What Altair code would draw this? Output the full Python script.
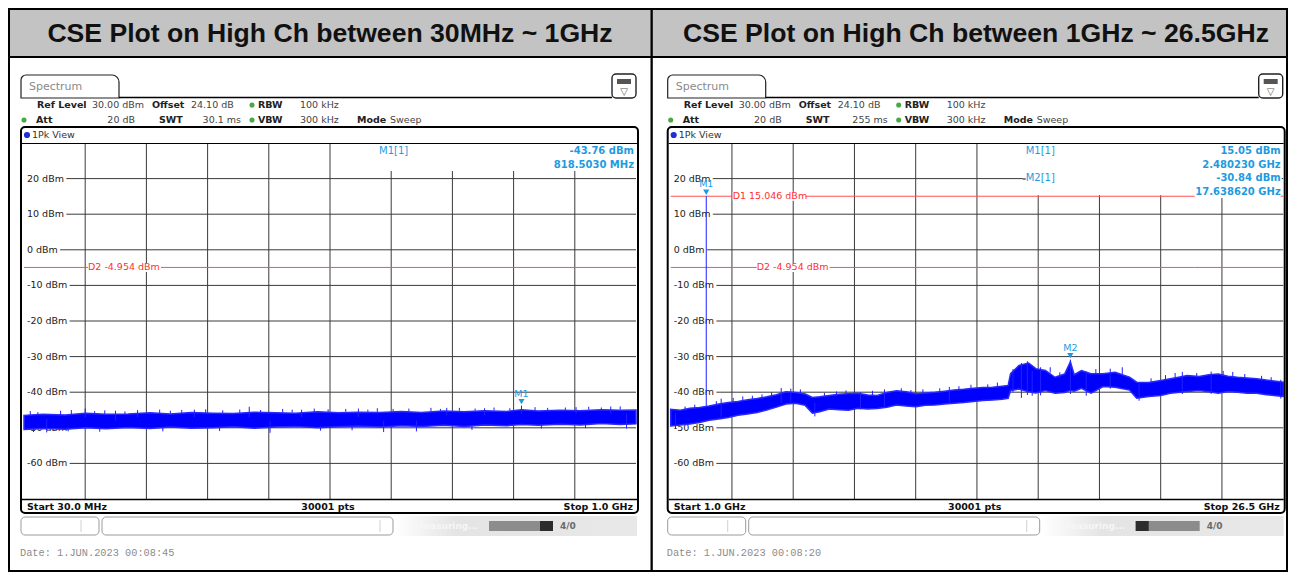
import altair as alt
import pandas as pd

# ------------------------------------------------------------------ data
TITLES = ["CSE Plot on High Ch between 30MHz ~ 1GHz",
          "CSE Plot on High Ch between 1GHz ~ 26.5GHz"]
DBM_TICKS = [20, 10, 0, -10, -20, -30, -40, -50, -60]
DBM_LABELS = ["20 dBm", "10 dBm", "0 dBm", "-10 dBm", "-20 dBm", "-30 dBm",
              "-40 dBm", "-50 dBm", "-60 dBm"]

# left sweep: 30 MHz .. 1 GHz (MHz)
L_START, L_STOP = 30.0, 1000.0
L_GRID = [127, 224, 321, 418, 515, 612, 709, 806, 903]
L_FREQ = [30, 60, 95, 128, 160, 195, 230, 262, 295, 330, 362, 395, 428, 460, 495,
          528, 560, 595, 628, 660, 695, 728, 760, 795, 818.5, 845, 880, 912, 945,
          975, 1000]
L_LO = [-50.5, -50.2, -50.4, -50.0, -50.3, -49.9, -50.2, -49.8, -50.1, -50.0, -49.7,
        -50.1, -49.8, -49.6, -50.0, -49.7, -49.5, -49.8, -49.4, -49.6, -49.3, -49.6,
        -49.2, -49.4, -49.1, -49.3, -49.0, -49.2, -48.8, -49.1, -48.9]
L_HI = [-46.5, -46.2, -46.4, -45.9, -46.2, -46.1, -45.8, -46.1, -45.7, -45.9, -46.0,
        -45.6, -45.8, -45.9, -45.5, -45.8, -45.6, -45.7, -45.4, -45.7, -45.3, -45.5,
        -45.2, -45.4, -44.9, -45.3, -45.1, -45.2, -44.9, -45.1, -45.0]
L_SPK_FREQ = [40, 45, 52, 66, 88, 100, 105, 127, 142, 150, 158, 175, 190, 210, 245, 250,
              262, 280, 300, 318, 340, 345, 372, 387, 405, 420, 440, 455, 470, 490, 500,
              512, 540, 550, 560, 575, 590, 600, 615, 640, 652, 675, 690, 700, 720, 740,
              745, 760, 775, 800, 818.5, 840, 850, 860, 888, 905, 920, 925, 945, 960,
              975, 985]
L_SPK_LO = [-46.5, -51.2, -46.5, -51.3, -46.5, -51.0, -46.4, -47.0, -46.3, -51.1, -46.3,
            -48.0, -46.2, -47.0, -46.0, -51.0, -46.0, -46.0, -47.0, -45.9, -50.9, -45.9,
            -45.8, -47.0, -45.8, -51.4, -45.7, -45.7, -47.0, -45.6, -50.8, -45.6, -45.5,
            -50.7, -47.0, -45.5, -45.5, -51.2, -45.4, -45.4, -51.0, -45.3, -45.3, -46.5,
            -45.2, -50.6, -45.2, -46.5, -45.1, -45.1, -46.0, -45.0, -50.2, -45.0, -45.0,
            -46.0, -50.1, -44.9, -44.9, -46.0, -44.9, -50.2]
L_SPK_HI = [-45.3, -50.0, -45.6, -47.5, -45.2, -49.8, -45.0, -44.6, -45.3, -49.9, -45.1,
            -45.2, -45.4, -45.0, -44.9, -49.8, -45.2, -45.0, -44.9, -44.8, -49.6, -45.1,
            -44.9, -44.1, -45.0, -48.0, -44.7, -44.9, -44.9, -44.6, -49.5, -44.8, -44.7,
            -49.5, -44.6, -44.9, -44.5, -48.0, -44.7, -44.6, -48.0, -44.4, -44.7, -44.4,
            -44.4, -49.3, -44.6, -44.5, -44.3, -44.5, -43.76, -44.2, -49.0, -44.4, -44.3,
            -44.2, -48.9, -44.1, -44.3, -44.0, -44.0, -46.0]
L_MK_NAME = ["M1"]
L_MK_FREQ = [818.5030]
L_MK_LVL = [-43.76]
L_D_NAME = ["D2"]
L_D_LVL = [-4.954]

# right sweep: 1 GHz .. 26.5 GHz (GHz)
R_START, R_STOP = 1.0, 26.5
R_GRID = [3.55, 6.10, 8.65, 11.20, 13.75, 16.30, 18.85, 21.40, 23.95]
R_FREQ = [1.0, 1.4, 1.8, 2.2, 2.6, 3.0, 3.4, 3.8, 4.2, 4.6, 5.0, 5.4, 5.8, 6.2, 6.6,
          6.9, 7.2, 7.6, 8.0, 8.4, 8.8, 9.2, 9.6, 10.0, 10.4, 10.8, 11.2, 11.6, 12.0,
          12.4, 12.8, 13.2, 13.6, 14.0, 14.4, 14.8, 15.05, 15.15, 15.5, 15.9, 16.2,
          16.6, 17.0, 17.4, 17.64, 17.8, 18.1, 18.5, 19.0, 19.5, 20.1, 20.4, 20.9,
          21.4, 21.8, 22.2, 22.5, 23.0, 23.4, 23.8, 24.2, 24.6, 25.0, 25.4, 25.8,
          26.2, 26.5]
R_LO = [-49.5, -49.2, -48.9, -48.5, -47.9, -47.5, -47.1, -46.5, -46.1, -45.7, -45.0,
        -44.2, -43.3, -43.1, -43.7, -45.9, -45.5, -44.7, -44.9, -45.1, -44.5, -44.7,
        -44.6, -44.2, -43.6, -43.9, -44.1, -43.7, -43.6, -43.3, -43.1, -42.9, -42.6,
        -42.3, -42.2, -42.0, -41.7, -39.5, -39.1, -39.9, -40.2, -39.5, -40.3, -40.1,
        -39.5, -39.7, -38.9, -40.3, -38.4, -38.6, -39.4, -41.7, -41.2, -40.9, -40.3,
        -40.0, -39.8, -39.5, -39.9, -40.3, -39.8, -40.0, -40.3, -40.3, -40.7, -41.0,
        -41.2]
R_HI = [-44.8, -45.1, -44.5, -44.3, -43.9, -43.3, -42.9, -42.6, -42.1, -41.8, -41.3,
        -40.7, -39.9, -40.1, -40.5, -41.5, -41.3, -40.9, -40.6, -40.4, -40.3, -40.8,
        -40.9, -40.1, -39.6, -39.9, -40.4, -40.2, -40.0, -39.7, -39.4, -39.2, -38.9,
        -38.7, -38.6, -38.3, -38.1, -34.8, -32.5, -31.8, -33.4, -33.9, -35.8, -34.9,
        -31.5, -35.1, -33.9, -34.8, -34.8, -34.4, -35.8, -37.2, -37.3, -36.7, -36.2,
        -35.7, -35.3, -35.6, -35.1, -34.9, -35.5, -35.8, -36.0, -36.2, -36.6, -36.9,
        -37.2]
R_SPK_FREQ = [1.2, 1.6, 2.0, 2.48023, 2.9, 3.1, 3.6, 4.0, 4.4, 4.8, 5.2, 5.6, 6.0, 6.4,
              7.0, 7.4, 7.9, 8.3, 8.9, 9.4, 9.9, 10.6, 11.0, 11.5, 12.2, 12.6, 13.0,
              13.5, 14.2, 14.6, 15.25, 15.6, 15.85, 16.05, 16.4, 16.8, 17.2, 17.64, 18.3,
              18.7, 19.3, 19.8, 20.5, 21.0, 21.6, 22.0, 22.3, 22.9, 23.5, 24.0, 24.4,
              24.9, 25.6, 26.0, 26.4]
R_SPK_LO = [-50.3, -45.2, -44.8, -44.0, -44.0, -47.0, -43.0, -42.5, -42.2, -42.0, -41.5,
            -43.0, -43.0, -40.4, -46.8, -41.5, -41.0, -40.8, -44.8, -41.0, -44.0, -40.2,
            -40.6, -40.6, -40.2, -43.0, -39.6, -39.1, -39.0, -38.8, -40.0, -41.6, -40.8,
            -41.0, -40.9, -34.5, -36.0, -40.5, -41.0, -34.8, -39.0, -35.0, -42.4, -37.5,
            -36.5, -36.0, -40.5, -36.0, -40.5, -35.5, -36.0, -36.2, -36.8, -37.0, -41.8]
R_SPK_HI = [-46.0, -44.0, -43.5, 15.05, -42.5, -41.8, -41.6, -41.2, -41.0, -40.6, -40.0,
            -38.8, -39.0, -39.2, -43.0, -40.2, -39.8, -39.5, -40.0, -39.6, -39.2, -38.9,
            -39.4, -39.2, -38.9, -38.5, -38.3, -37.9, -37.8, -37.3, -33.5, -31.8, -31.3,
            -34.0, -33.0, -33.0, -34.4, -30.84, -34.2, -33.5, -33.4, -33.0, -37.5, -36.1,
            -35.2, -34.6, -34.3, -34.6, -34.2, -34.0, -34.3, -34.9, -35.4, -35.8, -36.5]
R_MK_NAME = ["M1", "M2"]
R_MK_FREQ = [2.480230, 17.638620]
R_MK_LVL = [15.05, -30.84]
R_D_NAME = ["D1", "D2"]
R_D_LVL = [15.046, -4.954]

SWEEPS = [
    dict(title=TITLES[0], start=L_START, stop=L_STOP, grid=L_GRID, freq=L_FREQ, lo=L_LO,
         hi=L_HI, sf=L_SPK_FREQ, slo=L_SPK_LO, shi=L_SPK_HI, mk=L_MK_NAME, mf=L_MK_FREQ,
         ml=L_MK_LVL, dn=L_D_NAME, dl=L_D_LVL, swt="30.1 ms", startlab="Start 30.0 MHz",
         stoplab="Stop 1.0 GHz", date="Date: 1.JUN.2023  00:08:45", unit="MHz", fdig=4),
    dict(title=TITLES[1], start=R_START, stop=R_STOP, grid=R_GRID, freq=R_FREQ, lo=R_LO,
         hi=R_HI, sf=R_SPK_FREQ, slo=R_SPK_LO, shi=R_SPK_HI, mk=R_MK_NAME, mf=R_MK_FREQ,
         ml=R_MK_LVL, dn=R_D_NAME, dl=R_D_LVL, swt="255 ms", startlab="Start 1.0 GHz",
         stoplab="Stop 26.5 GHz", date="Date: 1.JUN.2023  00:08:20", unit="GHz", fdig=6),
]

# ------------------------------------------------------------------ layout / style
H = 564
SANS = "DejaVu Sans"
MONO = "Liberation Mono"
BLUE = "#0000ff"
MKC = "#1e9be0"
DRED = "#ff5050"
GRID = "#3a3a3a"
ONE = pd.DataFrame({"k": [0]})
LAYOUT = [dict(W=644, dx=-8, xr=[16, 628], dlab=[88], tdx=0),
          dict(W=636, dx=-5.3, xr=[18.7, 631.2], dlab=[86, 110], tdx=6)]


def panel(S, L):
    W, dx = L["W"], L["dx"]
    PL, PR = L["xr"]
    XS = alt.Scale(domain=[S["start"], S["stop"]], range=L["xr"])
    YS = alt.Scale(domain=[-70, 30], range=[491, 135])
    lay = []

    def X(v):
        return alt.value(v + dx)

    def Y(v):
        return alt.value(v - 8)

    def txt(x, y, s, size=9.5, weight="normal", color="#222", align="left",
            font=SANS, baseline="middle", raw=False):
        return alt.Chart(ONE).mark_text(
            text=s, align=align, baseline=baseline, font=font, fontSize=size,
            fontWeight=weight, color=color).encode(
            x=alt.value(x) if raw else X(x), y=alt.value(y) if raw else Y(y))

    def box(x1, x2, y1, y2, fill="white", stroke=None, sw=1.0, r=0, raw=False, **kw):
        m = dict(fill=fill, cornerRadius=r, **kw)
        if stroke:
            m.update(stroke=stroke, strokeWidth=sw)
        return alt.Chart(ONE).mark_rect(**m).encode(
            x=alt.value(x1) if raw else X(x1), x2=alt.value(x2) if raw else X(x2),
            y=alt.value(y1) if raw else Y(y1), y2=alt.value(y2) if raw else Y(y2))

    def hl(x1, x2, y, color="#000", sw=1.0):
        return alt.Chart(ONE).mark_rule(color=color, strokeWidth=sw).encode(
            x=X(x1), x2=X(x2), y=Y(y))

    def vl(x, y1, y2, color="#000", sw=1.0):
        return alt.Chart(ONE).mark_rule(color=color, strokeWidth=sw).encode(
            x=X(x), y=Y(y1), y2=Y(y2))

    def dot(x, y, color, size=30):
        return alt.Chart(ONE).mark_point(shape="circle", filled=True, size=size,
                                         color=color, opacity=1).encode(x=X(x), y=Y(y))

    # header band
    lay.append(box(0, W, 0, 48, fill="#c3c3c3", raw=True))
    lay.append(box(0, W, 48, 50, fill="#000", raw=True))
    lay.append(txt(W / 2 + L["tdx"], 34, S["title"], size=26.6, weight="bold", color="#111",
                   align="center", font="Liberation Sans", baseline="alphabetic", raw=True))

    # spectrum tab and icon
    lay.append(box(21, 119, 75, 98, fill="white", stroke="#222", sw=1.2,
                   cornerRadiusTopLeft=5, cornerRadiusTopRight=7))
    lay.append(hl(119, 612, 97.5, sw=1.5))
    lay.append(txt(29, 87, "Spectrum", size=11, color="#8a8a8a"))
    lay.append(box(612, 636, 74, 98, fill="white", stroke="#222", sw=1.4, r=4))
    lay.append(box(617, 631, 79, 84, fill="#555"))
    lay.append(txt(624, 91.5, "\u25bd", size=10, color="#555", align="center"))

    # settings rows
    r1, r2 = 105, 120
    lay += [txt(37, r1, "Ref Level", weight="bold"), txt(92, r1, "30.00 dBm", color="#444"),
            txt(152, r1, "Offset", weight="bold"), txt(191, r1, "24.10 dB", color="#444"),
            dot(252, r1, "#48a848", size=26), txt(258, r1, "RBW", weight="bold"),
            txt(300, r1, "100 kHz", color="#444")]
    lay += [dot(24, r2, "#48a848", size=26), txt(36, r2, "Att", weight="bold"),
            txt(135, r2, "20 dB", color="#444", align="right"),
            txt(159, r2, "SWT", weight="bold"),
            txt(241, r2, S["swt"], color="#444", align="right"),
            dot(252, r2, "#48a848", size=26), txt(258, r2, "VBW", weight="bold"),
            txt(300, r2, "300 kHz", color="#444"), txt(357, r2, "Mode", weight="bold"),
            txt(390, r2, "Sweep", color="#444")]

    # trace window background
    lay.append(box(22, 637, 128, 512, fill="white"))

    # grid
    lay.append(alt.Chart(pd.DataFrame({"f": S["grid"]})).mark_rule(
        color=GRID, strokeWidth=1).encode(
        x=alt.X("f:Q", scale=XS, axis=None), y=alt.value(135), y2=alt.value(491)))
    lay.append(alt.Chart(pd.DataFrame({"v": DBM_TICKS})).mark_rule(
        color=GRID, strokeWidth=1).encode(
        y=alt.Y("v:Q", scale=YS, axis=None), x=alt.value(PL + 3), x2=alt.value(PR)))
    labdf = pd.DataFrame({"v": DBM_TICKS, "lab": DBM_LABELS})
    for halo in (True, False):
        kw = dict(stroke="white", strokeWidth=6, strokeJoin="round", color="white") if halo \
            else dict(color="#222")
        lay.append(alt.Chart(labdf).mark_text(
            align="left", baseline="middle", font=SANS, fontSize=9.5, **kw).encode(
            y=alt.Y("v:Q", scale=YS), x=alt.value(PL + 3), text="lab:N"))

    # marker read-out background
    nmk = len(S["mk"])
    lay.append(box(376, 635, 144, 171 if nmk == 1 else 195.3))
    if nmk == 2:
        lay.append(box(548, 635, 188, 198))

    # display lines
    ddf = pd.DataFrame({"v": S["dl"], "lab": [f"{n}  {v:.3f} dBm" for n, v in zip(S["dn"], S["dl"])],
                        "px": [p + dx for p in L["dlab"]],
                        "px2": [p + dx + 73 for p in L["dlab"]]})
    lay.append(alt.Chart(ddf).mark_rule(color=DRED, strokeWidth=1).encode(
        y=alt.Y("v:Q", scale=YS), x=alt.value(PL), x2=alt.value(PR if nmk == 1 else 548 + dx)))
    if nmk == 2:
        lay.append(alt.Chart(ddf.iloc[1:]).mark_rule(color=DRED, strokeWidth=1).encode(
            y=alt.Y("v:Q", scale=YS), x=alt.value(548 + dx), x2=alt.value(PR)))
        lay.append(alt.Chart(ddf.iloc[:1]).mark_rule(color=DRED, strokeWidth=1).encode(
            y=alt.Y("v:Q", scale=YS), x=alt.value(634 + dx), x2=alt.value(PR)))
    lay.append(alt.Chart(ddf).mark_rule(color="white", strokeWidth=9).encode(
        y=alt.Y("v:Q", scale=YS), x=alt.X("px:Q", scale=None), x2="px2:Q"))
    lay.append(alt.Chart(ddf).mark_text(
        align="left", baseline="middle", font=SANS, fontSize=9.5, color="#ff3030").encode(
        y=alt.Y("v:Q", scale=YS), x=alt.X("px:Q", scale=None), text="lab:N"))

    # trace
    tdf = pd.DataFrame({"f": S["freq"], "lo": S["lo"], "hi": S["hi"]})
    lay.append(alt.Chart(tdf).mark_area(color=BLUE, stroke="#2a2aff", strokeWidth=1.5,
                                        opacity=1).encode(
        x=alt.X("f:Q", scale=XS), y=alt.Y("lo:Q", scale=YS), y2="hi:Q"))
    sdf = pd.DataFrame({"f": S["sf"], "lo": S["slo"], "hi": S["shi"]})
    lay.append(alt.Chart(sdf).mark_rule(color="#2020ff", strokeWidth=1).encode(
        x=alt.X("f:Q", scale=XS), y=alt.Y("lo:Q", scale=YS), y2="hi:Q"))

    # markers
    mdf = pd.DataFrame({"f": S["mf"], "v": S["ml"], "n": S["mk"]})
    lay.append(alt.Chart(mdf).mark_point(shape="triangle-down", filled=True, size=38,
                                         color=MKC, opacity=1, yOffset=-4).encode(
        x=alt.X("f:Q", scale=XS), y=alt.Y("v:Q", scale=YS)))
    lay.append(alt.Chart(mdf).mark_text(font=SANS, fontSize=9.5, color=MKC, dy=-12,
                                        baseline="middle").encode(
        x=alt.X("f:Q", scale=XS), y=alt.Y("v:Q", scale=YS), text="n:N"))

    # marker read-out text
    rows = [151, 164.5, 178, 191.5]
    for i, (n, f, v) in enumerate(zip(S["mk"], S["mf"], S["ml"])):
        lay.append(txt(379, rows[2 * i], f"{n}[1]", size=10, color=MKC))
        lay.append(txt(634, rows[2 * i], f"{v:.2f} dBm", size=10, weight="bold",
                       color=MKC, align="right"))
        lay.append(txt(634, rows[2 * i + 1], f"{f:.{S['fdig']}f} {S['unit']}", size=10,
                       weight="bold", color=MKC, align="right"))
    if nmk == 2:
        lay.append(hl(376, 379, 179))

    # trace window frame
    lay.append(hl(22, 637, 143.5, sw=1))
    lay.append(hl(22, 637, 499.5, sw=1.5))
    lay.append(dot(27, 135, "#1f2fd8", size=38))
    lay.append(txt(32, 135, "1Pk View", size=9.5, color="#333"))
    lay.append(txt(27, 507, S["startlab"], weight="bold", color="#111"))
    lay.append(txt(328, 507, "30001 pts", weight="bold", color="#111", align="center"))
    lay.append(txt(633, 507, S["stoplab"], weight="bold", color="#111", align="right"))
    lay.append(box(21, 638, 127, 513, fill="white", fillOpacity=0, stroke="#000", sw=2, r=4))

    # status bar
    lay.append(box(21, 99, 517, 535, stroke="#9a9a9a", sw=1, r=4))
    lay.append(vl(81, 520, 532, color="#d0d0d0"))
    lay.append(box(102, 393, 517, 535, stroke="#9a9a9a", sw=1, r=4))
    lay.append(vl(380, 520, 532, color="#d0d0d0"))
    grad = alt.LinearGradient(gradient="linear", x1=0, x2=1, y1=0, y2=0,
                              stops=[alt.GradientStop(color="#ffffff", offset=0),
                                     alt.GradientStop(color="#e4e4e4", offset=0.25),
                                     alt.GradientStop(color="#e8e8e8", offset=1)])
    lay.append(alt.Chart(ONE).mark_rect(color=grad).encode(
        x=X(395), x2=X(637), y=Y(516), y2=Y(536)))
    lay.append(txt(415, 526, "Measuring...", size=9, color="#f6f6f6", weight="bold"))
    lay.append(box(489, 553, 521, 531, fill="#8c8c8c"))
    if nmk == 1:
        lay.append(box(540, 553, 521, 531, fill="#2c2c2c"))
    else:
        lay.append(box(489, 502, 521, 531, fill="#2c2c2c"))
    lay.append(txt(560, 526, "4/0", size=9, weight="bold", color="#6a6a6a"))

    # date
    lay.append(txt(20, 553, S["date"], size=10.3, color="#8c8c8c", font=MONO))

    # outer frame
    lay.append(box(0, W, 0, 2, fill="#000", raw=True))
    lay.append(box(0, W, H - 2, H, fill="#000", raw=True))
    if L is LAYOUT[0]:
        lay.append(box(0, 2, 0, H, fill="#000", raw=True))
        lay.append(box(W - 1.5, W, 0, H, fill="#000", raw=True))
    else:
        lay.append(box(0, 0.8, 0, H, fill="#000", raw=True))
        lay.append(box(W - 2, W, 0, H, fill="#000", raw=True))

    return alt.layer(*lay).properties(width=W, height=H)


chart = alt.hconcat(panel(SWEEPS[0], LAYOUT[0]), panel(SWEEPS[1], LAYOUT[1]),
                    spacing=0).properties(padding=0, background="white")
chart = chart.configure_view(stroke=None).configure_concat(spacing=0)
chart.save("out.html", embed_options={"renderer": "svg", "actions": False})
